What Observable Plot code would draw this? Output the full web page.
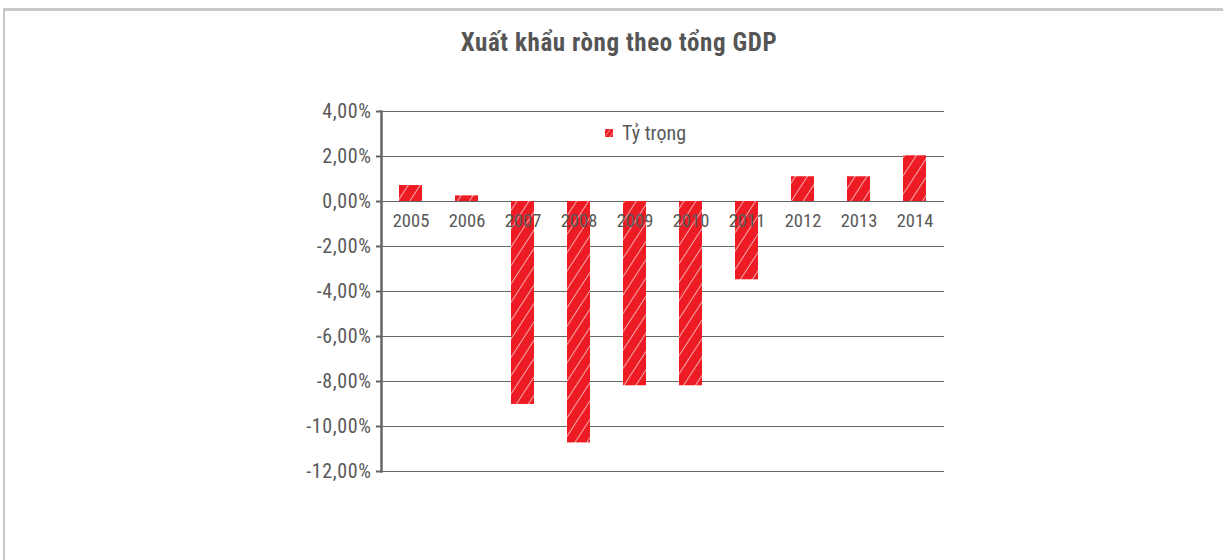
<!DOCTYPE html>
<html>
<head>
<meta charset="utf-8">
<script src="https://cdn.jsdelivr.net/npm/d3@7"></script>
<script src="https://cdn.jsdelivr.net/npm/@observablehq/plot@0.6"></script>
<style>
  html, body { margin: 0; padding: 0; background: #fff; }
  body { width: 1223px; height: 560px; position: relative; overflow: hidden;
         font-family: "Roboto Condensed", Roboto, sans-serif; }
  #frame { position: absolute; left: 3px; top: 8px; width: 1240px; height: 600px;
           border-top: 3px solid #c8c8c8; border-left: 2px solid #c8c8c8; box-sizing: border-box; }
  #title { position: absolute; left: 0; width: 1238px; top: 30px; line-height: 25px; text-align: center;
           font-size: 25px; font-weight: bold; color: #555; letter-spacing: 0.6px; }
  #chart { position: absolute; left: 0; top: 60px; }
  #legend { position: absolute; left: 605px; top: 121px; height: 24px; font-size: 20px; color: #595959;
            display: flex; align-items: center; }
  #legend svg { margin-right: 9px; }
</style>
</head>
<body>
<div id="frame"></div>
<div id="title">Xuất khẩu ròng theo tổng GDP</div>
<div id="chart"></div>
<div id="legend"><svg width="8" height="8"><defs><pattern id="hatchL" patternUnits="userSpaceOnUse" width="4" height="4" patternTransform="rotate(35)"><rect width="4" height="4" fill="#ED1C24"/><line x1="0" y1="0" x2="0" y2="4" stroke="#fff" stroke-width="0.8"/></pattern></defs><rect width="8" height="8" fill="url(#hatchL)"/></svg><span id="legtext"></span></div>
<script>
const years = ["2005","2006","2007","2008","2009","2010","2011","2012","2013","2014"];
const shares = [0.71, 0.25, -9.02, -10.73, -8.19, -8.19, -3.48, 1.10, 1.10, 2.03];
const yTicks = [4, 2, 0, -2, -4, -6, -8, -10, -12];
const seriesName = "Tỷ trọng";

document.getElementById("legtext").textContent = seriesName;
const data = years.map((y, i) => ({year: y, value: shares[i]}));
const fmt = v => v.toFixed(2).replace(".", ",") + "%";

const plot = Plot.plot({
  width: 1223,
  height: 500,
  marginLeft: 381,
  marginRight: 279,
  marginTop: 51,
  marginBottom: 89,
  style: {fontFamily: "'Roboto Condensed', Roboto, sans-serif", fontSize: "20px", color: "#595959", background: "transparent"},
  x: {domain: years, paddingInner: 0.59, paddingOuter: 0.295, axis: null},
  y: {domain: [-12, 4], ticks: yTicks, axis: null},
  marks: [
    Plot.ruleY(yTicks, {stroke: "#666", strokeWidth: 1}),
    Plot.barY(data, {x: "year", y: "value", fill: "#ED1C24", className: "hbar"}),
    Plot.axisY({ticks: yTicks, tickFormat: fmt, tickSize: 5, tickPadding: 5, label: null, stroke: "#666", strokeWidth: 2, fill: "#595959", fontSize: 20, className: "yax"}),
    Plot.frame({anchor: "left", stroke: "#666", strokeWidth: 2.5}),
    Plot.text(years, {x: d => d, y: 0, dy: 20, text: d => d, fill: "#595959", fontSize: 18.5})
  ]
});

// hatch pattern
const svg = d3.select(plot);
const defs = svg.insert("defs", ":first-child");
const pat = defs.append("pattern").attr("id", "hatch").attr("patternUnits", "userSpaceOnUse")
  .attr("width", 10).attr("height", 10).attr("patternTransform", "rotate(33)");
pat.append("rect").attr("width", 10).attr("height", 10).attr("fill", "#ED1C24");
pat.append("line").attr("x1", 0).attr("y1", 0).attr("x2", 0).attr("y2", 10).attr("stroke", "#fff").attr("stroke-width", 1.3).attr("stroke-opacity", 0.95);
svg.selectAll(".hbar rect").attr("fill", "url(#hatch)");
svg.selectAll(".yax text").style("letter-spacing", "0.6px");

document.getElementById("chart").appendChild(plot);
</script>
</body>
</html>
